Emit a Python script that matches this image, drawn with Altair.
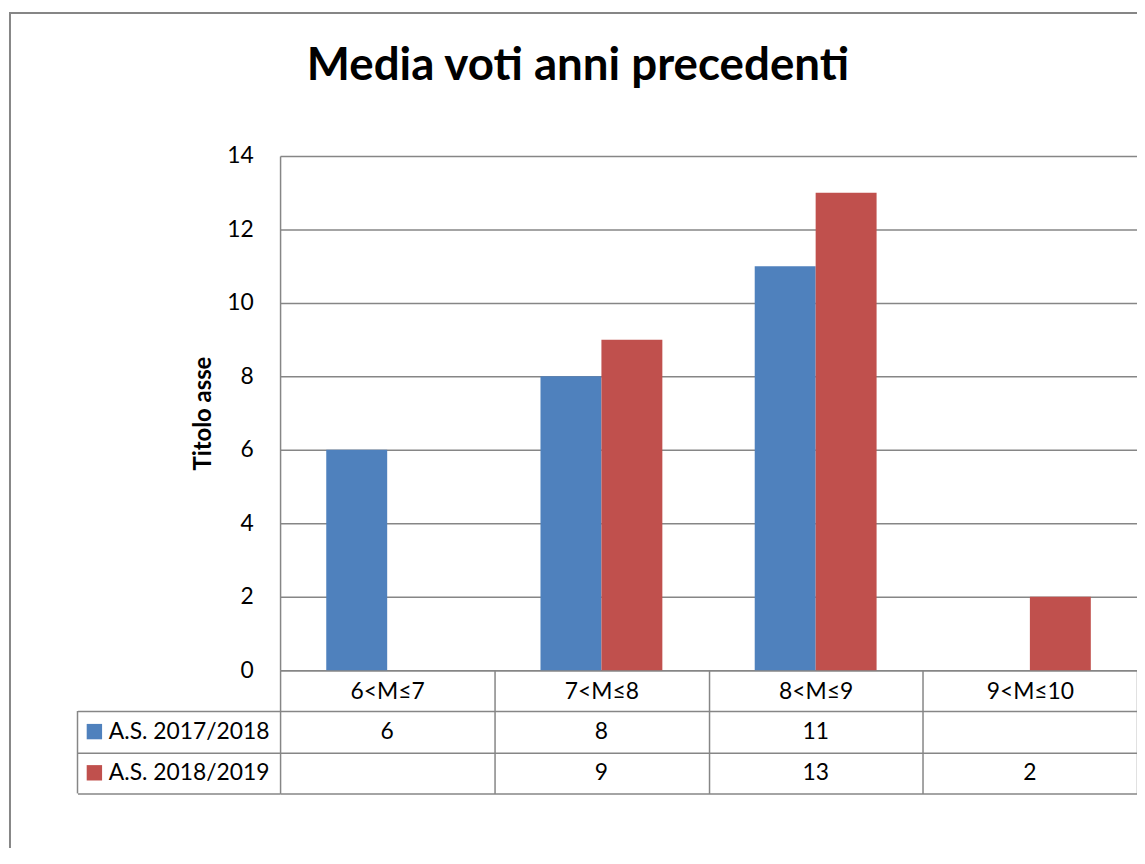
import altair as alt
import pandas as pd

# ---- data ----
categories = ["6<M≤7", "7<M≤8", "8<M≤9", "9<M≤10"]
series = ["A.S. 2017/2018", "A.S. 2018/2019"]
values_2017 = [6, 8, 11, None]
values_2018 = [None, 9, 13, 2]
colors = ["#4F81BD", "#C0504D"]
y_ticks = [0, 2, 4, 6, 8, 10, 12, 14]
chart_title = "Media voti anni precedenti"
y_title = "Titolo asse"

rows = []
for s, vals in zip(series, [values_2017, values_2018]):
    for c, v in zip(categories, vals):
        rows.append({"categoria": c, "serie": s, "valore": v})
df = pd.DataFrame(rows)
one = pd.DataFrame({"k": [0]})

FONT = "Lato"
GRID = "#868686"
W, H = 863, 518
ROW0, ROW2 = H + 41, H + 124

color_scale = alt.Scale(domain=series, range=colors)

x_enc = alt.X(
    "categoria:N", sort=categories, title=None,
    scale=alt.Scale(domain=categories, paddingInner=0, paddingOuter=0),
    axis=alt.Axis(labelAngle=0, tickBand="extent", ticks=True, tickSize=124,
                  tickColor=GRID, tickWidth=1.5, domainColor=GRID, domainWidth=1.5,
                  labelPadding=-103, labelBaseline="middle", labelFont=FONT,
                  labelFontSize=23, labelColor="black", grid=False, title=None),
)

y_enc = alt.Y(
    "valore:Q", scale=alt.Scale(domain=[0, 14]),
    axis=alt.Axis(values=y_ticks, title=y_title, titleFont=FONT, titleFontSize=24,
                  titleFontWeight="bold", titleColor="black", titleAngle=270,
                  titleX=-77, titleY=H / 2, titleAlign="center", titleBaseline="middle",
                  labelFont=FONT, labelFontSize=23, labelColor="black", labelPadding=27,
                  ticks=False, grid=True, gridColor=GRID, gridWidth=1.5,
                  domainColor=GRID, domainWidth=1.5),
)

row_scale = alt.Scale(domain=series, range=[ROW0, ROW2], paddingInner=0, paddingOuter=0)

frame = alt.Chart(one).mark_rect(filled=False, stroke=GRID, strokeWidth=2).encode(
    x=alt.value(-272), y=alt.value(-144), x2=alt.value(W + 200), y2=alt.value(H + 400)
)

bars = alt.Chart(df).transform_filter("isValid(datum.valore)").mark_bar().encode(
    x=x_enc,
    xOffset=alt.XOffset("serie:N", sort=series,
                        scale=alt.Scale(domain=series, paddingInner=0, paddingOuter=0.758)),
    y=y_enc,
    color=alt.Color("serie:N", scale=color_scale, legend=None),
)

table_text = alt.Chart(df).transform_filter("isValid(datum.valore)").mark_text(
    font=FONT, fontSize=23, color="black", baseline="middle", align="center"
).encode(
    x=x_enc,
    y=alt.Y("serie:N", sort=series, scale=row_scale,
            axis=alt.Axis(orient="left", tickBand="extent", ticks=True, tickSize=204,
                          tickColor=GRID, tickWidth=1.5, grid=True, gridColor=GRID,
                          gridWidth=1.5, domain=False, labelAlign="left",
                          labelPadding=-31, labelBaseline="middle", labelFont=FONT,
                          labelFontSize=23, labelColor="black", title=None)),
    text=alt.Text("valore:Q", format="d"),
)

squares = alt.Chart(pd.DataFrame({"serie": series})).mark_square(
    size=240, opacity=1, filled=True
).encode(
    x=alt.value(-187),
    y=alt.Y("serie:N", sort=series, scale=row_scale, axis=None),
    color=alt.Color("serie:N", scale=color_scale, legend=None),
)

left_rule = alt.Chart(one).mark_rule(color=GRID, strokeWidth=1.5).encode(
    x=alt.value(-204), y=alt.value(ROW0), y2=alt.value(ROW2)
)

title_text = alt.Chart(one).mark_text(
    font=FONT, fontSize=46, fontWeight="bold", color="black",
    align="center", baseline="alphabetic"
).encode(x=alt.value(300), y=alt.value(-76), text=alt.value(chart_title))

chart = alt.layer(
    frame, bars, table_text, squares, left_rule, title_text
).resolve_scale(y="independent").properties(
    width=W, height=H,
    padding={"left": 274, "top": 146, "right": 0, "bottom": 176},
    autosize=alt.AutoSizeParams(type="none"),
).configure_view(stroke="transparent")

chart.save("out.html", embed_options={"renderer": "svg", "actions": False})
